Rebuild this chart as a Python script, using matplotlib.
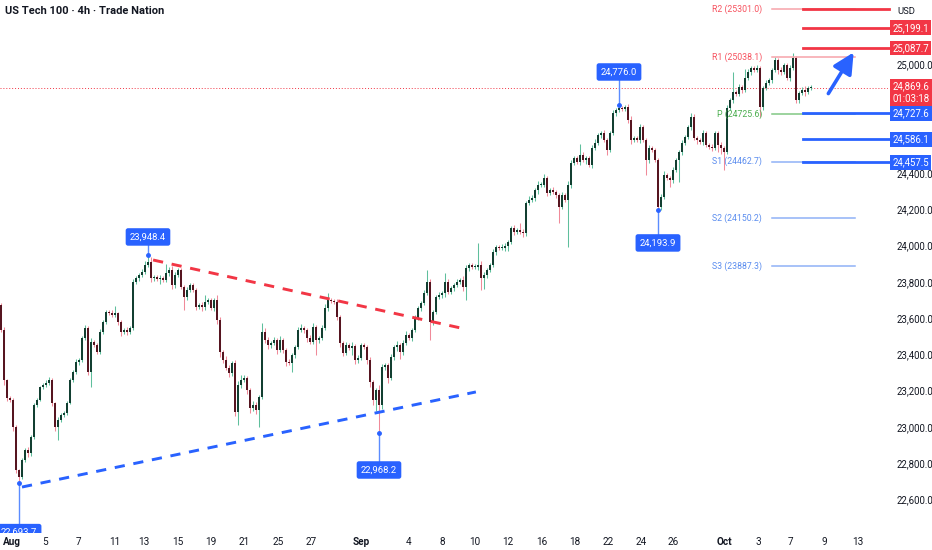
import numpy as np
import matplotlib
matplotlib.use("Agg")
import matplotlib.pyplot as plt
from matplotlib.ticker import FuncFormatter

plt.rcParams['font.family'] = ['Roboto', 'DejaVu Sans']

# 4h closes (open = previous close)
first_open = 23672
closes = [
    # Aug 1 - Aug 13
    23534, 23259, 23160, 23149, 23000, 22763, 22724, 22818, 22873, 22857,
    22945, 23121, 23149, 23220, 23231, 23242, 23259, 23132, 23000, 23038,
    23066, 23077, 23132, 23259, 23303, 23358, 23369, 23490, 23545, 23303,
    23468, 23452, 23413, 23523, 23578, 23634, 23628, 23617, 23628, 23578,
    23523, 23534, 23523, 23545,
    # Aug 13 - Aug 27
    23799, 23821, 23837, 23854, 23892, 23909, 23821, 23826, 23815, 23821,
    23810, 23848, 23865, 23782, 23837, 23865, 23771, 23716, 23755, 23782,
    23755, 23661, 23672, 23661, 23689, 23700, 23656, 23700, 23589, 23413,
    23369, 23325, 23297, 23353, 23083, 23231, 23259, 23270, 23204, 23104,
    23121, 23094, 23165, 23523, 23479, 23452,
    # Aug 27 - Sep 4
    23463, 23479, 23424, 23479, 23424, 23358, 23353, 23397, 23441, 23534,
    23545, 23534, 23490, 23468, 23551, 23479, 23490, 23545, 23656, 23700,
    23694, 23689, 23606, 23463, 23408, 23452, 23435, 23446, 23369, 23380,
    23452, 23441, 23369, 23248, 23149, 23204, 23121, 23331, 23342, 23270,
    23386, 23441, 23452, 23413, 23463, 23507, 23490,
    # Sep 4 - Sep 16
    23534, 23600, 23656, 23683, 23738, 23799, 23578, 23634, 23716, 23727,
    23738, 23799, 23744, 23766, 23782, 23799, 23810, 23771, 23876, 23892,
    23881, 23881, 23892, 23821, 23837, 23865, 23892, 23964, 23992, 23986,
    23986, 23997, 24019, 24096, 24074, 24085, 24074, 24069, 24234, 24251,
    24262, 24306, 24333,
    # Sep 16 - Sep 26
    24333, 24372, 24289, 24306, 24295, 24278, 24212, 24278, 24251, 24333,
    24455, 24482, 24460, 24499, 24471, 24482, 24443, 24537, 24565, 24609,
    24620, 24581, 24526, 24620, 24730, 24747, 24758, 24752, 24763, 24691,
    24581, 24592, 24581, 24653, 24581, 24471, 24537, 24526, 24471, 24212,
    24267, 24388, 24372, 24361, 24416, 24471,
    # Sep 26 - Oct 8
    24515, 24565, 24598, 24653, 24708, 24592, 24581, 24570, 24620, 24554,
    24543, 24537, 24620, 24554, 24537, 24515, 24758, 24802, 24846, 24835,
    24873, 24857, 24923, 24956, 24978, 24967, 24978, 24763, 24868, 24895,
    24912, 24967, 25022, 24967, 24956, 24994, 24923, 24978, 25033, 24802,
    24840, 24857, 24846, 24868, 24869.6,
]
# wick length above / below the body, in points
wick_hi = [
    10, 15, 8, 10, 12, 10, 8, 10, 12, 15, 10, 10, 12, 8, 10, 15, 18, 10, 8, 15,
    12, 10, 10, 12, 10, 15, 10, 12, 15, 10, 20, 12, 10, 15, 10, 12, 10, 15, 40, 8,
    10, 12, 15, 12,
    15, 10, 12, 15, 20, 39, 25, 10, 12, 15, 10, 50, 15, 20, 15, 10, 12, 10, 15, 12,
    10, 12, 10, 15, 40, 12, 10, 12, 25, 15, 12, 20, 15, 10, 15, 20, 25, 15, 12, 10,
    20, 15, 12, 50, 20, 15,
    12, 15, 10, 20, 12, 10, 15, 12, 10, 15, 20, 12, 10, 15, 20, 12, 10, 15, 20, 39,
    12, 10, 15, 10, 12, 15, 10, 20, 12, 15, 10, 12, 10, 15, 12, 10, 30, 15, 12, 10,
    15, 12, 20, 10, 15, 20, 12,
    12, 15, 10, 12, 15, 66, 15, 12, 10, 15, 12, 50, 15, 10, 12, 15, 10, 20, 15, 12,
    10, 15, 120, 20, 15, 12, 10, 15, 12, 10, 20, 15, 12, 10, 15, 12, 40, 15, 12, 20,
    15, 10, 25,
    15, 20, 12, 10, 15, 12, 10, 15, 12, 20, 15, 12, 10, 60, 15, 12, 10, 15, 20, 12,
    10, 15, 12, 10, 15, 12, 18, 10, 12, 15, 20, 12, 10, 15, 12, 10, 15, 12, 10, 12,
    15, 20, 12, 10, 15, 12,
    12, 15, 10, 12, 22, 15, 10, 12, 15, 10, 12, 15, 10, 12, 15, 10, 15, 12, 110, 10,
    15, 12, 50, 15, 10, 12, 15, 10, 12, 15, 10, 12, 15, 10, 15, 12, 10, 15, 28, 12,
    10, 15, 20, 12, 15,
]
wick_lo = [
    10, 25, 15, 12, 20, 15, 30, 12, 10, 20, 15, 10, 12, 8, 10, 10, 12, 15, 20, 70,
    10, 12, 10, 8, 12, 10, 15, 10, 12, 15, 80, 12, 10, 10, 8, 10, 12, 10, 10, 15,
    20, 10, 15, 12,
    12, 10, 15, 10, 12, 10, 20, 15, 10, 25, 12, 10, 15, 20, 15, 10, 12, 70, 15, 12,
    10, 15, 12, 20, 15, 10, 12, 15, 20, 25, 15, 12, 20, 15, 25, 72, 15, 12, 20, 25,
    15, 20, 94, 12, 15, 20,
    15, 12, 20, 10, 15, 20, 12, 50, 15, 10, 12, 15, 20, 10, 12, 80, 15, 10, 12, 15,
    10, 12, 15, 20, 15, 12, 10, 40, 20, 15, 12, 10, 20, 25, 30, 60, 153, 20, 15, 25,
    12, 15, 20, 40, 15, 12, 10,
    15, 10, 12, 15, 10, 12, 99, 15, 10, 12, 15, 20, 12, 10, 15, 12, 10, 20, 71, 15,
    12, 10, 15, 66, 60, 15, 12, 10, 15, 12, 10, 15, 30, 12, 15, 10, 12, 20, 15, 10,
    12, 15, 20,
    12, 10, 15, 12, 10, 15, 88, 12, 10, 259, 15, 12, 10, 15, 12, 20, 10, 15, 12, 10,
    15, 12, 25, 10, 12, 15, 10, 12, 10, 15, 20, 12, 10, 15, 12, 83, 15, 12, 10, 18,
    15, 12, 10, 40, 15, 12,
    120, 15, 12, 10, 15, 12, 20, 10, 15, 12, 10, 15, 12, 40, 35, 99, 12, 10, 15, 12,
    10, 15, 12, 10, 15, 12, 10, 55, 15, 12, 10, 15, 12, 20, 15, 10, 12, 15, 10, 17,
    15, 12, 20, 10, 12,
]

date_ticks = [3.7, 14.7, 25.7, 38, 47.7, 59, 70, 81, 92.3, 103.3, 120, 135.7, 147,
              158, 169, 180.3, 191.3, 202.3, 213.3, 224, 241, 252.3, 263.3, 274.3, 285.7]
date_labels = ['Aug', '5', '7', '11', '13', '15', '19', '21', '25', '27', 'Sep', '4', '8',
               '10', '12', '16', '18', '22', '24', '26', 'Oct', '3', '7', '9', '13']
# price scale labels that are not hidden behind a badge
price_ticks = [22600, 22800, 23000, 23200, 23400, 23600, 23800, 24000, 24200, 24400, 25000]

# pivot levels (label, value, colour of text/line)
pivots = [('R2', 25301.0, '#f7525f', '#f7a3aa'),
          ('R1', 25038.1, '#f7525f', '#f7a3aa'),
          ('P', 24725.6, '#4caf50', '#81c784'),
          ('S1', 24462.7, '#5b8def', '#8fb1f7'),
          ('S2', 24150.2, '#5b8def', '#8fb1f7'),
          ('S3', 23887.3, '#5b8def', '#8fb1f7')]
red_levels = [25301.0, 25199.1, 25087.7]
blue_levels = [24727.6, 24586.1, 24457.5]

# swing callouts: candle index, price, label price
callouts = [(6, 22693.7, 22418), (49, 23948.4, 24047), (126, 22968.2, 22763),
            (206, 24776.0, 24956), (219, 24193.9, 24014)]

red_trend = ([50.7, 154.7], [23920, 23540])
blue_trend = ([7, 158.3], [22669, 23193])
arrow_from = (275.3, 24824)
arrow_to = (284.7, 25077)

closes = np.array(closes, dtype=float)
opens = np.concatenate([[first_open], closes[:-1]])
highs = np.maximum(opens, closes) + np.array(wick_hi)
lows = np.minimum(opens, closes) - np.array(wick_lo)
idx = np.arange(len(closes))
up = closes >= opens

fig = plt.figure(figsize=(9.32, 5.5), dpi=100)
ax = fig.add_axes([0, 17 / 550, 888 / 932, 533 / 550])
ax.set_xlim(-0.33, 295.67)
ax.set_ylim(22415.8, 25352.6)

up_body, up_wick = '#123f31', '#5fbf9c'
dn_body, dn_wick = '#561520', '#f08a99'

ax.vlines(idx[up], lows[up], highs[up], color=up_wick, lw=0.75, zorder=2)
ax.vlines(idx[~up], lows[~up], highs[~up], color=dn_wick, lw=0.75, zorder=2)
body_h = np.maximum(np.abs(closes - opens), 5)
body_b = np.minimum(opens, closes)
ax.bar(idx[up], body_h[up], bottom=body_b[up], width=0.75, color=up_body, zorder=3)
ax.bar(idx[~up], body_h[~up], bottom=body_b[~up], width=0.75, color=dn_body, zorder=3)

# current price dotted line
ax.axhline(closes[-1], color='#f23645', lw=0.7, ls=(0, (1, 2)), zorder=1)

# trend lines
ax.plot(*red_trend, color='#f23645', lw=2.1, ls=(0, (3.5, 3)), zorder=4)
ax.plot(*blue_trend, color='#2962ff', lw=2.1, ls=(0, (3.5, 3)), zorder=4)

# pivot points
for name, val, tcol, lcol in pivots:
    ax.plot([257, 284.7], [val, val], color=lcol, lw=1.1, zorder=2)
    ax.text(253.7, val, f"{name} ({val:.1f})", color=tcol, fontsize=6.3,
            ha='right', va='center', zorder=5)

# user levels to the right
for lv in red_levels:
    ax.plot([267.3, 296], [lv, lv], color='#f23645', lw=2, zorder=4, clip_on=False)
for lv in blue_levels:
    ax.plot([267.3, 296], [lv, lv], color='#2962ff', lw=2, zorder=4, clip_on=False)

ax.annotate('', xy=arrow_to, xytext=arrow_from,
            arrowprops=dict(arrowstyle='-|>,head_width=0.45,head_length=0.9',
                            color='#2962ff', lw=2.6, mutation_scale=14), zorder=5)

# swing callouts
for ci, price, ly in callouts:
    ax.plot([ci, ci], [price, ly], color='#5b8cff', lw=1, zorder=5)
    ax.plot(ci, price, 'o', color='#2962ff', ms=2.5, zorder=5)
    ax.text(ci, ly, f"{price:,.1f}", color='white', fontsize=6.8, ha='center',
            va='center', zorder=6, clip_on=True,
            bbox=dict(boxstyle='round,pad=0.45,rounding_size=0.25', fc='#2962ff', ec='none'))

# axes styling
for s in ax.spines.values():
    s.set_visible(False)
ax.yaxis.tick_right()
ax.set_yticks(price_ticks)
ax.yaxis.set_major_formatter(FuncFormatter(lambda v, p: f"{v:,.1f}"))
ax.tick_params(axis='y', length=0, pad=6, labelsize=6.9, labelcolor='#131722')
ax.set_xticks(date_ticks)
ax.set_xticklabels(date_labels)
ax.tick_params(axis='x', length=0, pad=3, labelsize=7.2, labelcolor='#131722')
for lab in ax.get_xticklabels():
    if lab.get_text() in ('Aug', 'Sep', 'Oct'):
        lab.set_fontweight('bold')

# price badges on the scale
ytr = ax.get_yaxis_transform()
badge = dict(transform=ytr, color='white', fontsize=6.9, ha='left', zorder=7, clip_on=False)
for lv in red_levels[1:]:
    ax.text(1.005, lv, f"{lv:,.1f}", va='center', **badge,
            bbox=dict(boxstyle='square,pad=0.25', fc='#f23645', ec='none'))
for lv in blue_levels:
    ax.text(1.005, lv, f"{lv:,.1f}", va='center', **badge,
            bbox=dict(boxstyle='square,pad=0.25', fc='#2962ff', ec='none'))
ax.text(1.005, 24905, f"{closes[-1]:,.1f}\n01:03:18", va='top', linespacing=1.3, **badge,
        bbox=dict(boxstyle='square,pad=0.25', fc='#f23645', ec='none'))

fig.text(5 / 932, 1 - 11 / 550, "US Tech 100 · 4h · Trade Nation", fontsize=8,
         fontweight='semibold', color='#131722', va='center')
fig.text(906 / 932, 1 - 12 / 550, "USD", fontsize=6.8, color='#131722',
         ha='center', va='center')

fig.savefig("out.png", dpi=100)
